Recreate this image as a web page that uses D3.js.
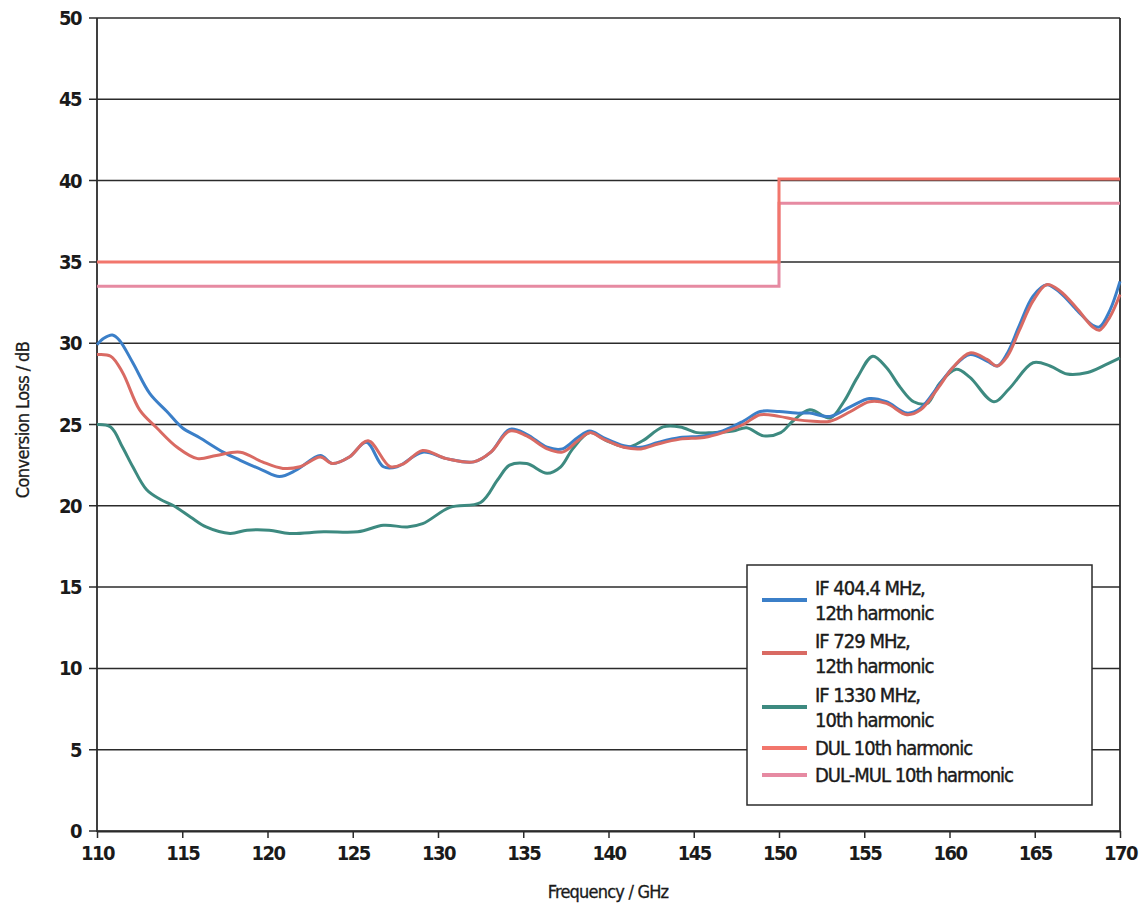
<!DOCTYPE html>
<html>
<head>
<meta charset="utf-8">
<script src="https://cdn.jsdelivr.net/npm/d3@7"></script>
<style>
  body { margin: 0; background: #fff; }
  text { font-family: "DejaVu Sans Condensed", "Liberation Sans", Arial, sans-serif; fill: #1a1a1a; }
</style>
</head>
<body>
<script>
// series data [frequency GHz, conversion loss dB]
var if404 = [[110,29.9],[110.4,30.3],[110.9,30.5],[111.3,30.2],[112.1,28.8],[113.1,26.9],[114.1,25.8],[115,24.8],[116,24.2],[117.4,23.3],[118.4,22.8],[119.7,22.2],[120.7,21.8],[121.7,22.2],[123.1,23.1],[123.8,22.6],[124.8,23.0],[125.8,23.9],[126.8,22.4],[127.6,22.4],[129.1,23.3],[130.5,22.9],[132.1,22.7],[133.1,23.3],[134.2,24.7],[135.2,24.4],[136.4,23.6],[137.3,23.5],[138.2,24.2],[138.9,24.6],[139.7,24.2],[140.9,23.7],[141.9,23.6],[142.9,23.9],[144.2,24.2],[145.6,24.3],[146.7,24.6],[147.9,25.2],[148.9,25.8],[150,25.8],[151,25.7],[151.8,25.7],[153,25.5],[154.2,26.1],[155.3,26.6],[156.3,26.4],[157.5,25.7],[158.3,26.0],[159.3,27.3],[160.2,28.5],[161.2,29.3],[162.2,28.9],[162.8,28.6],[163.4,29.4],[164.1,31.1],[164.9,32.9],[165.7,33.6],[166.5,33.1],[167.5,32.0],[168.4,31.1],[168.8,31.0],[169.4,32.0],[170,33.8]];
var if729 = [[110,29.3],[110.8,29.2],[111.5,28.2],[112.5,25.9],[113.5,24.8],[114.7,23.6],[115.9,22.9],[117,23.1],[118.4,23.3],[119.7,22.7],[120.9,22.3],[121.9,22.4],[123.1,23.0],[123.8,22.6],[124.8,23.0],[125.9,24.0],[127.2,22.4],[128,22.6],[129.1,23.4],[130.5,22.9],[132.1,22.7],[133.1,23.3],[134.2,24.6],[135.2,24.3],[136.4,23.5],[137.3,23.3],[138.2,24.0],[138.9,24.5],[139.7,24.1],[140.9,23.6],[141.9,23.5],[142.9,23.8],[144.2,24.1],[145.6,24.2],[146.7,24.5],[147.9,25.0],[148.9,25.6],[150,25.5],[151,25.3],[152,25.2],[153,25.2],[154.2,25.8],[155.3,26.4],[156.3,26.3],[157.5,25.6],[158.3,25.9],[159.3,27.2],[160.2,28.5],[161.2,29.4],[162.2,29.0],[162.8,28.6],[163.4,29.2],[164.1,30.8],[164.9,32.6],[165.7,33.6],[166.5,33.2],[167.5,32.1],[168.4,31.0],[168.8,30.8],[169.4,31.6],[170,33.0]];
var if1330 = [[110,25.0],[110.8,24.85],[111.5,23.6],[112.1,22.4],[112.9,21.0],[113.7,20.4],[114.5,20.0],[115.5,19.3],[116.4,18.7],[117.8,18.3],[118.8,18.5],[120.1,18.5],[121.3,18.3],[123.3,18.4],[125.3,18.4],[126.8,18.8],[128.2,18.7],[129.1,18.9],[130.7,19.9],[132.5,20.2],[133.5,21.6],[134.2,22.5],[135.2,22.6],[136.4,22.0],[137.2,22.4],[137.9,23.5],[138.9,24.5],[139.9,24.0],[141.1,23.6],[142,24.0],[143.2,24.85],[144.2,24.85],[145.2,24.5],[146.1,24.5],[147.3,24.6],[148.1,24.8],[149.1,24.3],[150.1,24.5],[150.8,25.2],[151.8,25.9],[153,25.4],[153.8,26.4],[154.6,27.9],[155.5,29.2],[156.3,28.5],[157.1,27.3],[157.9,26.4],[158.7,26.3],[159.4,27.5],[160.4,28.4],[161.2,27.9],[162.6,26.4],[163.5,27.2],[164.9,28.8],[165.9,28.6],[166.9,28.1],[168.1,28.2],[169.2,28.7],[170,29.1]];
var dulLimit = [[110,35.0],[150,35.0],[150,40.1],[170,40.1]];
var dulMulLimit = [[110,33.5],[150,33.5],[150,38.6],[170,38.6]];

var xTicks = d3.range(110, 171, 5);
var yTicks = d3.range(0, 51, 5);

var legendNames = [["IF 404.4 MHz,", "12th harmonic"], ["IF 729 MHz,", "12th harmonic"], ["IF 1330 MHz,", "10th harmonic"], ["DUL 10th harmonic"], ["DUL-MUL 10th harmonic"]];
var colours = ["#3b7fc8", "#d96a63", "#3d8a80", "#f2766c", "#e68aa2"];

var W = 1148, H = 905;
var pL = 97, pR = 1120, pT = 18, pB = 831;

var svg = d3.select("body").append("svg")
    .attr("width", W)
    .attr("height", H);

var x = d3.scaleLinear().domain([110, 170]).range([pL, pR]);
var y = d3.scaleLinear().domain([0, 50]).range([pB, pT]);

// horizontal grid lines
svg.append("g").selectAll("line")
    .data(yTicks)
    .enter().append("line")
    .attr("x1", pL - 8)
    .attr("x2", pR)
    .attr("y1", function(d) { return y(d); })
    .attr("y2", function(d) { return y(d); })
    .attr("stroke", "#2b2b2b")
    .attr("stroke-width", 1.5);

// left and right frame
svg.append("line").attr("x1", pL).attr("x2", pL).attr("y1", pT).attr("y2", pB + 1)
    .attr("stroke", "#2b2b2b").attr("stroke-width", 1.8);
svg.append("line").attr("x1", pR).attr("x2", pR).attr("y1", pT).attr("y2", pB + 1)
    .attr("stroke", "#2b2b2b").attr("stroke-width", 1.8);

// x axis
var xAxis = svg.append("g")
    .attr("transform", "translate(0," + pB + ")")
    .call(d3.axisBottom(x).tickValues(xTicks).tickSize(7).tickSizeOuter(0).tickFormat(d3.format("d")));
xAxis.select(".domain").attr("stroke", "#2b2b2b").attr("stroke-width", 2);
xAxis.selectAll(".tick line").attr("stroke", "#2b2b2b").attr("stroke-width", 1.5);
xAxis.selectAll(".tick text")
    .attr("y", 12)
    .attr("dy", "0.85em")
    .attr("fill", "#1a1a1a")
    .style("font-size", "20px")
    .style("font-weight", "bold")
    .style("letter-spacing", "-1.5px")
    .style("font-family", "'DejaVu Sans Condensed', 'Liberation Sans', sans-serif");

// y tick labels
svg.append("g").selectAll("text")
    .data(yTicks)
    .enter().append("text")
    .attr("x", pL - 16)
    .attr("y", function(d) { return y(d) + 7; })
    .attr("text-anchor", "end")
    .style("font-size", "20px")
    .style("font-weight", "bold")
    .style("letter-spacing", "-1.5px")
    .text(function(d) { return d; });

// axis titles
svg.append("text")
    .attr("x", 608)
    .attr("y", 898)
    .attr("text-anchor", "middle")
    .style("font-size", "18px")
    .style("letter-spacing", "-0.8px")
    .style("stroke", "#1a1a1a")
    .style("stroke-width", 0.3)
    .text("Frequency / GHz");

svg.append("text")
    .attr("transform", "translate(29,420) rotate(-90)")
    .attr("text-anchor", "middle")
    .style("font-size", "18px")
    .style("letter-spacing", "-0.6px")
    .style("stroke", "#1a1a1a")
    .style("stroke-width", 0.3)
    .text("Conversion Loss / dB");

var smooth = d3.line()
    .x(function(d) { return x(d[0]); })
    .y(function(d) { return y(d[1]); })
    .curve(d3.curveCatmullRom.alpha(0.5));

var step = d3.line()
    .x(function(d) { return x(d[0]); })
    .y(function(d) { return y(d[1]); });

// limit lines
svg.append("path").datum(dulMulLimit).attr("d", step)
    .attr("fill", "none").attr("stroke", colours[4]).attr("stroke-width", 3);
svg.append("path").datum(dulLimit).attr("d", step)
    .attr("fill", "none").attr("stroke", colours[3]).attr("stroke-width", 3);

// measured curves
svg.append("path").datum(if1330).attr("d", smooth)
    .attr("fill", "none").attr("stroke", colours[2]).attr("stroke-width", 3);
svg.append("path").datum(if404).attr("d", smooth)
    .attr("fill", "none").attr("stroke", colours[0]).attr("stroke-width", 3);
svg.append("path").datum(if729).attr("d", smooth)
    .attr("fill", "none").attr("stroke", colours[1]).attr("stroke-width", 3);

// legend
var legend = svg.append("g").attr("transform", "translate(747,565)");
legend.append("rect")
    .attr("width", 345)
    .attr("height", 240)
    .attr("fill", "#fff")
    .attr("stroke", "#2b2b2b")
    .attr("stroke-width", 1.5);

var rowY = [35, 88, 142, 183, 210];
legendNames.forEach(function(lines, i) {
    var g = legend.append("g").attr("transform", "translate(0," + rowY[i] + ")");
    g.append("line")
        .attr("x1", 15).attr("x2", 60)
        .attr("y1", 0).attr("y2", 0)
        .attr("stroke", colours[i])
        .attr("stroke-width", 4);
    lines.forEach(function(t, j) {
        g.append("text")
            .attr("x", 68)
            .attr("y", (lines.length === 1 ? 7 : -5 + j * 25))
            .style("font-size", "20px")
            .style("letter-spacing", "-1px")
            .style("stroke", "#1a1a1a")
            .style("stroke-width", 0.4)
            .text(t);
    });
});
</script>
</body>
</html>
